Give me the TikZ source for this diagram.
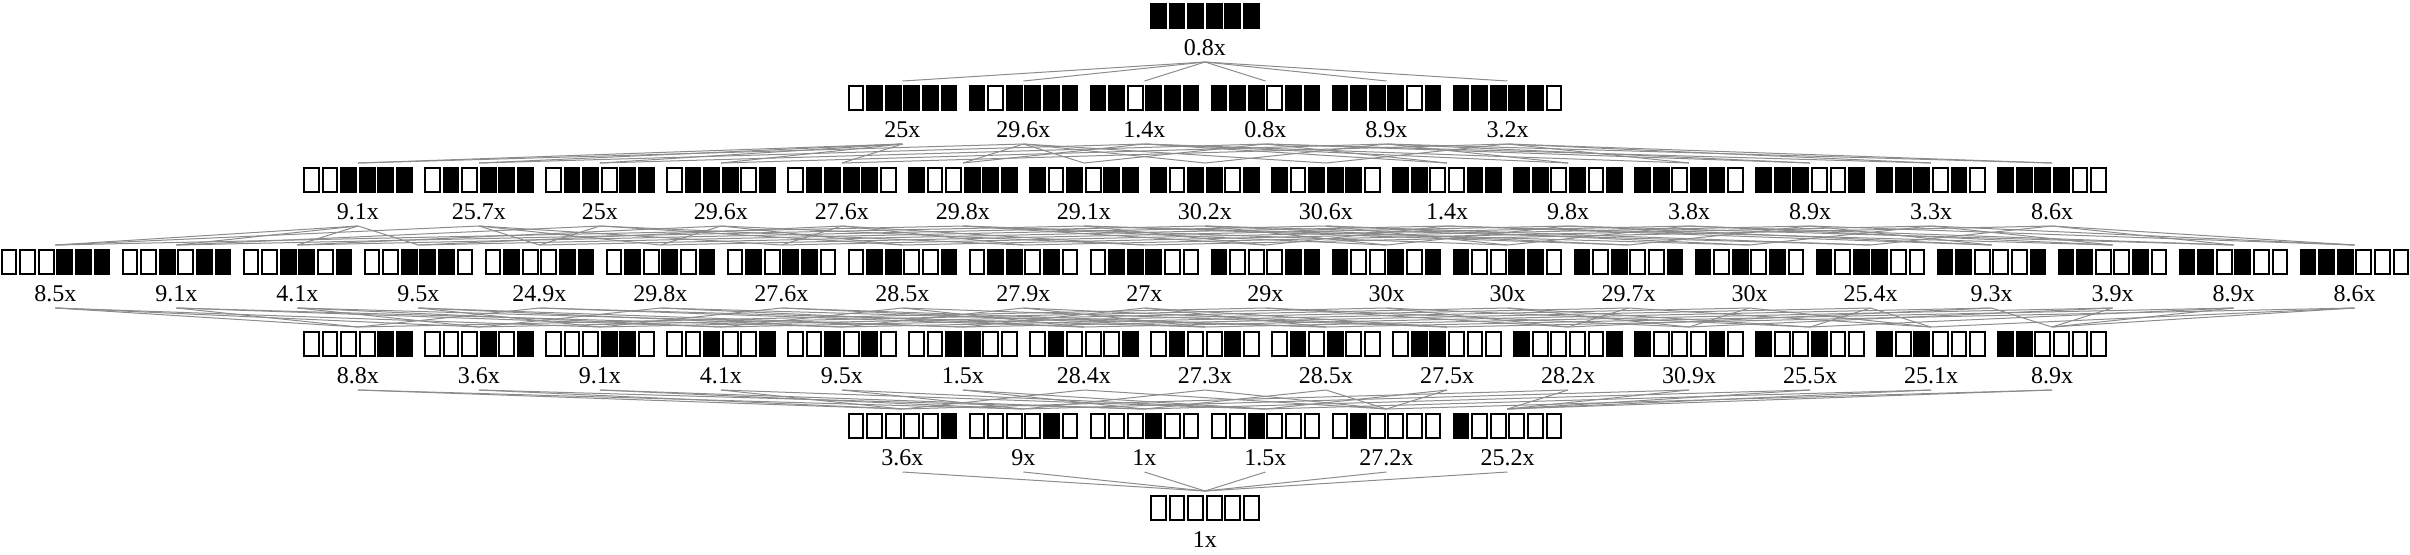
\documentclass[tikz,border=0pt]{standalone}
\usepackage{fontspec}
\setmainfont{Liberation Serif}
\usetikzlibrary{calc}

\begin{document}
\begin{tikzpicture}[
  x=1pt, y=1pt,
  vert/.style={minimum width=55pt, minimum height=31.5pt, inner sep=0pt, outer sep=0pt},
  speed/.style={font=\fontsize{12}{14}\selectfont, inner sep=0pt},
  link/.style={draw=black!45, line width=0.5pt},
  bitoff/.style={draw=black, fill=white, line width=1pt},
]
\useasboundingbox (-602.5,-261.75) rectangle (602.5,15.25);
% Lattice levels: row/number of nodes/{mask/speed-up}
\foreach \row/\n/\level in {
  0/1/{63/0.8x},
  1/6/{31/25x, 47/29.6x, 55/1.4x, 59/0.8x, 61/8.9x, 62/3.2x},
  2/15/{15/9.1x, 23/25.7x, 27/25x, 29/29.6x, 30/27.6x, 39/29.8x, 43/29.1x, 45/30.2x,
        46/30.6x, 51/1.4x, 53/9.8x, 54/3.8x, 57/8.9x, 58/3.3x, 60/8.6x},
  3/20/{7/8.5x, 11/9.1x, 13/4.1x, 14/9.5x, 19/24.9x, 21/29.8x, 22/27.6x, 25/28.5x,
        26/27.9x, 28/27x, 35/29x, 37/30x, 38/30x, 41/29.7x, 42/30x, 44/25.4x,
        49/9.3x, 50/3.9x, 52/8.9x, 56/8.6x},
  4/15/{3/8.8x, 5/3.6x, 6/9.1x, 9/4.1x, 10/9.5x, 12/1.5x, 17/28.4x, 18/27.3x,
        20/28.5x, 24/27.5x, 33/28.2x, 34/30.9x, 36/25.5x, 40/25.1x, 48/8.9x},
  5/6/{1/3.6x, 2/9x, 4/1x, 8/1.5x, 16/27.2x, 32/25.2x},
  6/1/{0/1x}%
}{
  \foreach \id/\gain [count=\i] in \level {
    \node[vert] (v\id) at ({(\i-(\n+1)/2)*60.5}, {-41*\row}) {};
    \node[speed] (s\id) at ([yshift=-8.75pt]v\id.center) {\gain};
    % one cell per bit, leftmost = highest bit
    \foreach \k in {1,...,6} {
      \pgfmathtruncatemacro\bit{mod(floor(\id/2^(6-\k)),2)}
      \coordinate (c) at ([xshift={(\k-3.5)*9.3pt-4.2pt}, yshift=0.75pt]v\id.center);
      \ifnum\bit=1
        \fill (c) rectangle ++(8.4,13);
      \else
        \draw[bitoff] ($(c)+(0.5,0.5)$) rectangle ++(7.4,12);
      \fi
    }
  }
}
% Covering relations: switch one bit off
\foreach \id in {1,...,63} {
  \foreach \k in {0,...,5} {
    \pgfmathtruncatemacro\bit{mod(floor(\id/2^\k),2)}
    \ifnum\bit=1
      \pgfmathtruncatemacro\lo{\id-2^\k}
      \draw[link] (v\id.south) -- (v\lo.north);
    \fi
  }
}
\end{tikzpicture}
\end{document}
